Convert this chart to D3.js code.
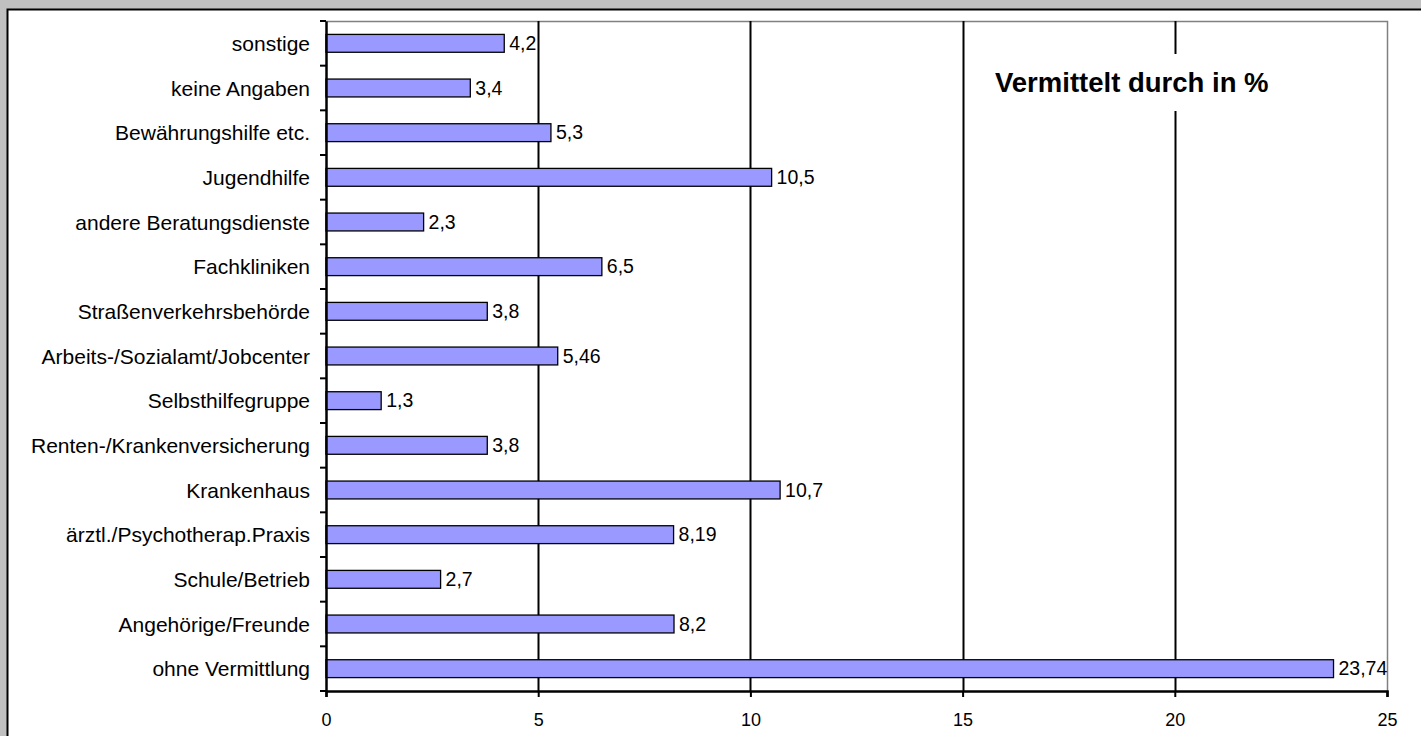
<!DOCTYPE html>
<html>
<head>
<meta charset="utf-8">
<script src="https://cdn.jsdelivr.net/npm/d3@7"></script>
<style>
  html, body { margin: 0; padding: 0; background: #c0c0c0; }
  svg { display: block; }
  text { font-family: Arial, "Liberation Sans", sans-serif; fill: #000; }
</style>
</head>
<body>
<svg id="chart" width="1421" height="736"></svg>
<script>
const categories = [
  "sonstige",
  "keine Angaben",
  "Bewährungshilfe etc.",
  "Jugendhilfe",
  "andere Beratungsdienste",
  "Fachkliniken",
  "Straßenverkehrsbehörde",
  "Arbeits-/Sozialamt/Jobcenter",
  "Selbsthilfegruppe",
  "Renten-/Krankenversicherung",
  "Krankenhaus",
  "ärztl./Psychotherap.Praxis",
  "Schule/Betrieb",
  "Angehörige/Freunde",
  "ohne Vermittlung"
];
const values = [4.2, 3.4, 5.3, 10.5, 2.3, 6.5, 3.8, 5.46, 1.3, 3.8, 10.7, 8.19, 2.7, 8.2, 23.74];
const valueLabels = ["4,2", "3,4", "5,3", "10,5", "2,3", "6,5", "3,8", "5,46", "1,3", "3,8", "10,7", "8,19", "2,7", "8,2", "23,74"];
const xTicks = [0, 5, 10, 15, 20, 25];
const title = "Vermittelt durch in %";

const svg = d3.select("#chart");

// outer chart frame
svg.append("rect")
  .attr("x", 7.5).attr("y", 9.5)
  .attr("width", 1430).attr("height", 740)
  .attr("fill", "#fff").attr("stroke", "#000").attr("stroke-width", 2);

const plot = { left: 326, right: 1387, top: 21, bottom: 691 };

const x = d3.scaleLinear().domain([0, 25]).range([plot.left, plot.right]);
const y = d3.scaleBand().domain(categories).range([plot.top, plot.bottom]).paddingInner(0.6).paddingOuter(0.3);
const yBand = d3.scaleBand().domain(categories).range([plot.top, plot.bottom]);

// plot area border (grey top/right)
svg.append("path")
  .attr("d", `M${plot.left},${plot.top + 0.5}H${plot.right + 0.5}V${plot.bottom}`)
  .attr("fill", "none").attr("stroke", "#808080").attr("stroke-width", 1.5);

// vertical gridlines
svg.append("g").selectAll("line")
  .data(xTicks.filter(d => d > 0 && d < 25))
  .join("line")
  .attr("x1", d => Math.round(x(d)) + 0.5).attr("x2", d => Math.round(x(d)) + 0.5)
  .attr("y1", plot.top).attr("y2", plot.bottom)
  .attr("stroke", "#000").attr("stroke-width", 2);

// bars
svg.append("g").selectAll("rect")
  .data(values)
  .join("rect")
  .attr("x", x(0))
  .attr("y", (d, i) => y(categories[i]))
  .attr("width", d => x(d) - x(0))
  .attr("height", y.bandwidth())
  .attr("fill", "#9999ff")
  .attr("stroke", "#000").attr("stroke-width", 1.3);

// value labels
svg.append("g").selectAll("text")
  .data(values)
  .join("text")
  .attr("x", d => x(d) + 5)
  .attr("y", (d, i) => yBand(categories[i]) + yBand.bandwidth() / 2 + 6.5)
  .attr("font-size", 19.5)
  .text((d, i) => valueLabels[i]);

// title with white background
const tg = svg.append("g");
tg.append("rect").attr("x", 985).attr("y", 54).attr("width", 300).attr("height", 57).attr("fill", "#fff");
tg.append("text").attr("x", 995).attr("y", 92)
  .attr("font-size", 27.5).attr("font-weight", "bold")
  .text(title);

// y axis
const yAxis = d3.axisLeft(yBand).tickSize(0).tickPadding(16);
const yg = svg.append("g").attr("transform", `translate(${plot.left},0)`).call(yAxis);
yg.select(".domain").attr("stroke", "#000").attr("stroke-width", 2.5);
yg.selectAll("text").attr("font-size", 21).attr("font-family", "Arial, 'Liberation Sans', sans-serif").attr("fill", "#000").attr("dy", "0.36em");
// band boundary ticks
svg.append("g").selectAll("line")
  .data(d3.range(categories.length + 1))
  .join("line")
  .attr("x1", plot.left - 6).attr("x2", plot.left)
  .attr("y1", i => plot.top + i * yBand.step()).attr("y2", i => plot.top + i * yBand.step())
  .attr("stroke", "#000").attr("stroke-width", 2);

// x axis
const xAxis = d3.axisBottom(x).tickValues(xTicks).tickSize(6).tickPadding(16).tickFormat(d3.format("d"));
const xg = svg.append("g").attr("transform", `translate(0,${plot.bottom})`).call(xAxis);
xg.select(".domain").attr("stroke", "#000").attr("stroke-width", 2.5);
xg.selectAll(".tick line").attr("stroke", "#000").attr("stroke-width", 2);
xg.selectAll("text").attr("font-size", 18).attr("font-family", "Arial, 'Liberation Sans', sans-serif").attr("fill", "#000");
</script>
</body>
</html>
